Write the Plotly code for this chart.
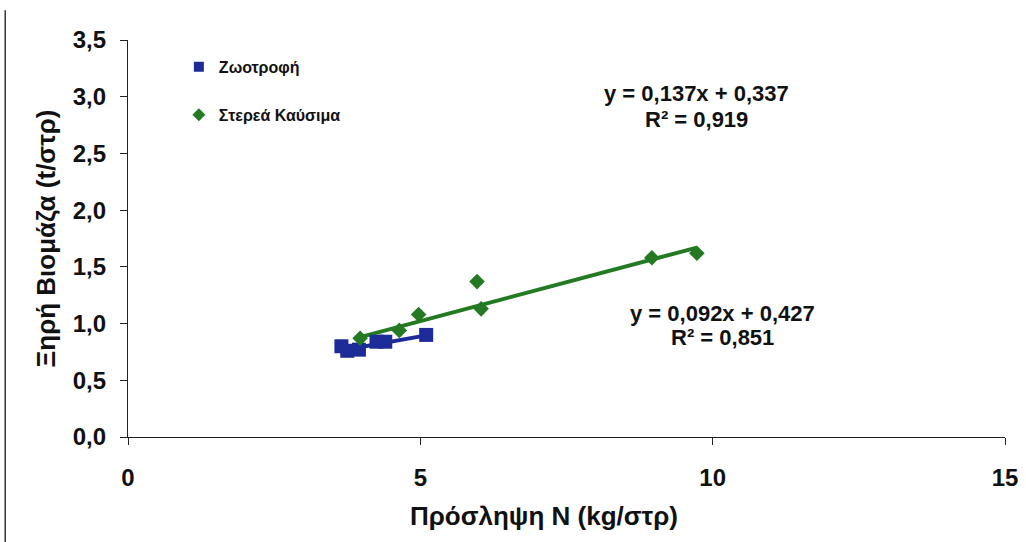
import plotly.graph_objects as go

# Data
feed_x = [3.65, 3.75, 3.95, 4.25, 4.40, 5.10]
feed_y = [0.80, 0.76, 0.77, 0.84, 0.84, 0.90]
fuel_x = [3.97, 4.64, 4.97, 5.97, 6.04, 8.96, 9.73]
fuel_y = [0.87, 0.94, 1.08, 1.37, 1.13, 1.58, 1.62]
feed_slope, feed_icpt = 0.092, 0.427
fuel_slope, fuel_icpt = 0.137, 0.337
feed_name = "Ζωοτροφή"
fuel_name = "Στερεά Καύσιμα"
feed_eq = ["y = 0,092x + 0,427", "R² = 0,851"]
fuel_eq = ["y = 0,137x + 0,337", "R² = 0,919"]
x_ticks = [0, 5, 10, 15]
y_ticks = [0, 0.5, 1.0, 1.5, 2.0, 2.5, 3.0, 3.5]
y_tick_labels = ["0,0", "0,5", "1,0", "1,5", "2,0", "2,5", "3,0", "3,5"]
x_title = "Πρόσληψη N (kg/στρ)"
y_title = "Ξηρή Βιομάζα (t/στρ)"

BLUE = "#1C2B97"
GREEN = "#237A23"
FONT = "Liberation Sans, Arial, sans-serif"
TXT = "#111111"

fig = go.Figure()

# trend lines over data range
fx = [min(feed_x), max(feed_x)]
fig.add_trace(go.Scatter(x=fx, y=[feed_slope * v + feed_icpt for v in fx], mode="lines",
                         line=dict(color=BLUE, width=4), showlegend=False, hoverinfo="skip"))
gx = [min(fuel_x), max(fuel_x)]
fig.add_trace(go.Scatter(x=gx, y=[fuel_slope * v + fuel_icpt for v in gx], mode="lines",
                         line=dict(color=GREEN, width=4), showlegend=False, hoverinfo="skip"))

fig.add_trace(go.Scatter(x=feed_x, y=feed_y, mode="markers", name=feed_name, showlegend=False,
                         marker=dict(symbol="square", size=14, color=BLUE)))
fig.add_trace(go.Scatter(x=fuel_x, y=fuel_y, mode="markers", name=fuel_name, showlegend=False,
                         marker=dict(symbol="diamond", size=12, color=GREEN)))

# legend entries (small symbols as in the reference)
fig.add_trace(go.Scatter(x=[None], y=[None], mode="markers", name="<b>" + feed_name + "</b>",
                         legendgroup="a", marker=dict(symbol="square", size=10, color=BLUE)))
fig.add_trace(go.Scatter(x=[None], y=[None], mode="markers", name="<b>" + fuel_name + "</b>",
                         legendgroup="b", marker=dict(symbol="diamond", size=10, color=GREEN)))

ann_font = dict(family=FONT, size=22, color=TXT)
fig.add_annotation(x=9.73, y=3.03, text="<b>" + fuel_eq[0] + "</b>", showarrow=False, font=ann_font)
fig.add_annotation(x=9.73, y=2.80, text="<b>" + fuel_eq[1] + "</b>", showarrow=False, font=ann_font)
fig.add_annotation(x=10.16, y=1.09, text="<b>" + feed_eq[0] + "</b>", showarrow=False, font=ann_font)
fig.add_annotation(x=10.16, y=0.88, text="<b>" + feed_eq[1] + "</b>", showarrow=False, font=ann_font)

# x-axis title (slightly left of centre, as in the reference)
fig.add_annotation(xref="paper", yref="paper", x=0.474, y=-0.198, yanchor="middle",
                   text="<b>" + x_title + "</b>", showarrow=False,
                   font=dict(family=FONT, size=26, color=TXT))

# scan artifact: vertical line at far left
fig.add_shape(type="line", xref="paper", yref="paper", x0=-0.140, x1=-0.140, y0=1.075, y1=-0.28,
              line=dict(color="#333333", width=1.5))

fig.update_layout(
    width=1026, height=542,
    margin=dict(l=128, r=21, t=40, b=105),
    paper_bgcolor="white", plot_bgcolor="white",
    font=dict(family=FONT, color=TXT),
    legend=dict(x=0.058, y=0.975, xanchor="left", yanchor="top", tracegroupgap=24,
                font=dict(family=FONT, size=16, color=TXT),
                bgcolor="rgba(0,0,0,0)", itemwidth=30),
    xaxis=dict(range=[0, 15], tickvals=x_ticks, showgrid=False, zeroline=False,
               showline=True, linecolor="#222222", linewidth=1.2, ticks="outside", ticklen=7,
               tickcolor="#222222", automargin=False, ticklabelstandoff=12,
               tickfont=dict(family=FONT, size=24, weight="bold")),
    yaxis=dict(range=[0, 3.5], tickvals=y_ticks, ticktext=y_tick_labels, showgrid=False, zeroline=False,
               showline=True, linecolor="#222222", linewidth=1.2, ticks="outside", ticklen=7,
               tickcolor="#222222", automargin=False, ticklabelstandoff=9,
               tickfont=dict(family=FONT, size=24, weight="bold"),
               title=dict(text="<b>" + y_title + "</b>", font=dict(family=FONT, size=26), standoff=9)),
)

fig.write_html("out.html", config={"displayModeBar": False},
               post_script="document.body.style.margin='0';")
